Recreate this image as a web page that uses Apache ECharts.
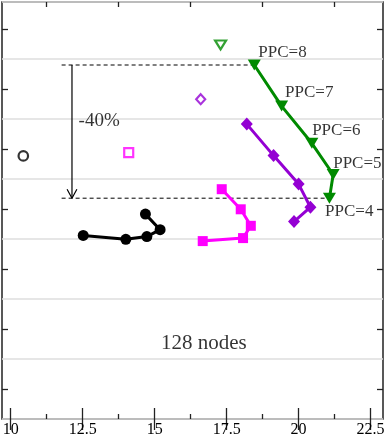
<!DOCTYPE html>
<html><head><meta charset="utf-8">
<script src="https://cdn.jsdelivr.net/npm/echarts@6/dist/echarts.min.js"></script>
<style>html,body{margin:0;padding:0;background:#fff}#c{width:386px;height:440px}</style>
</head><body><div id="c"></div>
<script>
// ---- data ----
const xTicks = [10, 12.5, 15, 17.5, 20, 22.5];
const xMinorTicks = [11.25, 13.75, 16.25, 18.75, 21.25];
const yTicks = [1, 3, 5, 7, 9, 11, 13];
const ppcLabels = ['PPC=8', 'PPC=7', 'PPC=6', 'PPC=5', 'PPC=4'];
const ppcLabelX = [18.60, 19.53, 20.47, 21.20, 20.92];
const ppcLabelY = [12.22, 10.88, 9.63, 8.51, 6.90];

const greenX  = [18.46, 19.41, 20.46, 21.20, 21.07];
const greenY  = [11.80, 10.43, 9.19, 8.15, 7.36];
const greenRefX = [17.29], greenRefY = [12.47];

const purpleX = [18.20, 19.13, 20.00, 20.41, 19.84];
const purpleY = [9.83, 8.78, 7.83, 7.06, 6.58];
const purpleRefX = [16.60], purpleRefY = [10.66];

const magentaX = [17.33, 17.99, 18.34, 18.07, 16.67];
const magentaY = [7.66, 6.99, 6.44, 6.03, 5.93];
const magentaRefX = [14.10], magentaRefY = [8.88];

const blackX = [14.68, 15.19, 14.73, 14.00, 12.52];
const blackY = [6.83, 6.31, 6.08, 5.99, 6.12];
const blackRefX = [10.44], blackRefY = [8.77];

const annotStartX = 11.77;
const arrowX = 12.13;
const pctLabel = '-40%', pctX = 12.36, pctY = 9.92;
const nodesLabel = '128 nodes', nodesX = 16.71, nodesY = 2.53;

// ---- chart ----
const FONT = "'Liberation Serif','DejaVu Serif',serif";
const AX = '#222';
const zip = (xs, ys) => xs.map((x, i) => [x, ys[i]]);
const XMIN = 9.7, XMAX = 22.93, YMIN = 0, YMAX = 13.9;

function xAx(pos, vals, len, labels) {
  return {
    type: 'value', min: XMIN, max: XMAX, position: pos,
    axisLine: { show: false },
    splitLine: { show: false },
    axisTick: { show: true, inside: true, length: len, customValues: vals, lineStyle: { color: AX, width: 1.3 } },
    axisLabel: labels ? { show: true, customValues: vals, color: '#000', fontFamily: FONT, fontSize: 16, margin: 3 } : { show: false }
  };
}
function yAx(pos, ticks, split) {
  return {
    type: 'value', min: YMIN, max: YMAX, position: pos,
    interval: split ? 2 : undefined,
    axisLine: { show: false },
    splitLine: { show: !!split, lineStyle: { color: '#dedede', width: 1.5 } },
    axisTick: ticks ? { show: true, inside: true, length: 6, customValues: yTicks, lineStyle: { color: AX, width: 1.3 } } : { show: false },
    axisLabel: { show: false }
  };
}

function lineSeries(xs, ys, color, symbol, size, rotate) {
  return {
    type: 'line', xAxisIndex: 0, yAxisIndex: 0, data: zip(xs, ys),
    symbol: symbol, symbolSize: size, symbolRotate: rotate || 0,
    lineStyle: { color: color, width: 3 },
    itemStyle: { color: color },
    z: 5, animation: false, silent: true
  };
}
function refSeries(xs, ys, color, symbol, size, rotate) {
  return {
    type: 'scatter', xAxisIndex: 0, yAxisIndex: 0, data: zip(xs, ys),
    symbol: symbol, symbolSize: size, symbolRotate: rotate || 0,
    itemStyle: { color: '#fff', borderColor: color, borderWidth: 2.2 },
    z: 5, animation: false, silent: true
  };
}
function textSeries(xs, ys, names, size, pos) {
  return {
    type: 'scatter', xAxisIndex: 0, yAxisIndex: 0,
    data: xs.map((x, i) => ({ value: [x, ys[i]], name: names[i] })),
    symbolSize: 0,
    label: { show: true, position: pos, distance: 0, formatter: p => p.name, color: '#000', fontFamily: FONT, fontSize: size },
    z: 6, animation: false, silent: true
  };
}
const dashStyle = { color: '#000', width: 1, type: [4, 3] };

const option = {
  animation: false,
  backgroundColor: '#fff',
  grid: { left: 2, right: 3, top: 2, bottom: 21, show: true, borderColor: AX, borderWidth: 1.5, containLabel: false, outerBoundsMode: 'none' },
  xAxis: [
    xAx('bottom', xTicks, 11, true),
    xAx('bottom', xMinorTicks, 5, false),
    xAx('top', xTicks, 11, false),
    xAx('top', xMinorTicks, 5, false)
  ],
  yAxis: [
    yAx('left', false, true),
    yAx('left', true, false),
    yAx('right', true, false)
  ],
  series: [
    // dashed guide lines
    { type: 'line', data: [[annotStartX, greenY[0]], [greenX[0], greenY[0]]], symbol: 'none', lineStyle: dashStyle, z: 3, silent: true },
    { type: 'line', data: [[annotStartX, greenY[4]], [greenX[4], greenY[4]]], symbol: 'none', lineStyle: dashStyle, z: 3, silent: true },
    // arrow
    { type: 'line', data: [[arrowX, greenY[0]], [arrowX, greenY[4]]], symbol: 'none', lineStyle: { color: '#000', width: 1.2 }, z: 3, silent: true },
    { type: 'line', data: [[arrowX - 0.17, greenY[4] + 0.30], [arrowX, greenY[4]], [arrowX + 0.17, greenY[4] + 0.30]], symbol: 'none', lineStyle: { color: '#000', width: 1.2 }, z: 3, silent: true },
    // data
    lineSeries(greenX, greenY, '#008a00', 'triangle', [13, 11], 180),
    lineSeries(purpleX, purpleY, '#9400d3', 'diamond', [12, 13]),
    lineSeries(magentaX, magentaY, '#ff00ff', 'rect', 10),
    lineSeries(blackX, blackY, '#000', 'circle', 11),
    refSeries(greenRefX, greenRefY, '#008a00', 'triangle', [11, 9], 180),
    refSeries(purpleRefX, purpleRefY, '#9400d3', 'diamond', [9, 10]),
    refSeries(magentaRefX, magentaRefY, '#ff00ff', 'rect', 9),
    refSeries(blackRefX, blackRefY, '#000', 'circle', 9.5),
    // texts
    textSeries(ppcLabelX, ppcLabelY, ppcLabels, 17, 'right'),
    textSeries([pctX], [pctY], [pctLabel], 19, 'right'),
    textSeries([nodesX], [nodesY], [nodesLabel], 21, 'inside')
  ]
};
const chart = echarts.init(document.getElementById('c'), null, { renderer: 'canvas' });
chart.setOption(option);
</script>
</body></html>
